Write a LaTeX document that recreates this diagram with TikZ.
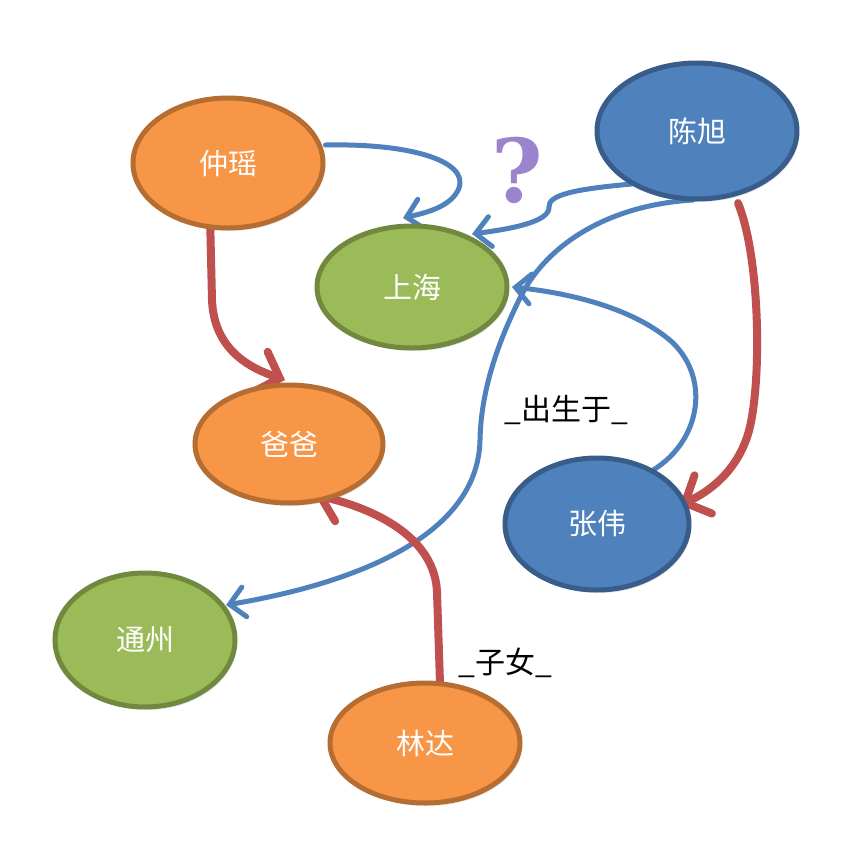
\documentclass[tikz,border=0pt]{standalone}
\usepackage{fontspec}
\newfontfamily\cjk{Noto Sans CJK SC}
\newfontfamily\qfont{DejaVu Serif}
\usetikzlibrary{shapes.geometric,arrows.meta,shadows}
\pgfdeclarelayer{background}
\pgfsetlayers{background,main}
\definecolor{orfill}{HTML}{F79646}
\definecolor{ordraw}{HTML}{B66D31}
\definecolor{grfill}{HTML}{9BBB59}
\definecolor{grdraw}{HTML}{71893F}
\definecolor{blfill}{HTML}{4F81BD}
\definecolor{bldraw}{HTML}{385D8A}
\definecolor{bline}{HTML}{4F81BD}
\definecolor{rline}{HTML}{C0504D}
\definecolor{qpurple}{HTML}{9C84CC}
\tikzset{
  ent/.style={ellipse, line width=5pt, text=white, font=\cjk\fontsize{29}{31}\selectfont, inner sep=0pt,
    drop shadow={opacity=0.18, shadow xshift=2pt, shadow yshift=-3pt}},
  orn/.style={ent, fill=orfill, draw=ordraw},
  grn/.style={ent, fill=grfill, draw=grdraw},
  bln/.style={ent, fill=blfill, draw=bldraw},
  bedge/.style={draw=bline, line width=5pt, line cap=round, -{Straight Barb[length=15pt,width=30pt,line cap=round]}},
  redge/.style={draw=rline, line width=8pt, line cap=round, -{Straight Barb[length=20pt,width=42pt,line cap=round]}},
  lbl/.style={font=\cjk\fontsize{30}{32}\selectfont, text=black}
}
\begin{document}
\begin{tikzpicture}[x=1pt,y=-1pt]
\useasboundingbox (0,0) rectangle (863,844);
\node[orn, minimum width=190pt, minimum height=130pt] (zy) at (228,163) {仲瑶};
\node[grn, minimum width=190pt, minimum height=122pt] (sh) at (412,287) {上海};
\node[bln, minimum width=200pt, minimum height=136pt] (cx) at (697,131) {陈旭};
\node[orn, minimum width=188pt, minimum height=118pt] (bb) at (289,444) {爸爸};
\node[bln, minimum width=184pt, minimum height=132pt] (zw) at (597,524) {张伟};
\node[grn, minimum width=180pt, minimum height=134pt] (tz) at (145,640) {通州};
\node[orn, minimum width=190pt, minimum height=120pt] (ld) at (425,743) {林达};
\node[text=qpurple, font=\qfont\bfseries\fontsize{88}{88}\selectfont] (q) at (517,170) {?};
\coordinate (t1) at (403,218);
\coordinate (t2) at (472,234);
\coordinate (t3) at (226,605);
\coordinate (t4) at (512,287);
\coordinate (t5) at (285,380);
\coordinate (t6) at (680,505);
\coordinate (t7) at (315,495);
\begin{pgfonlayer}{background}
% blue edges
\draw[bedge] (zy.east |- 0,145) .. controls (420,143) and (478,165) .. (455,195) .. controls (445,208) and (425,213) .. (t1);
\draw[bedge] (632,184) .. controls (575,189) and (548,195) .. (549,207) .. controls (550,222) and (510,229) .. (t2);
\draw[bedge] (693,200) .. controls (610,205) and (548,243) .. (521,296) .. controls (498,342) and (481,390) .. (480,440) .. controls (478,540) and (345,585) .. (t3);
\draw[bedge] (648,473) .. controls (700,445) and (712,380) .. (672,342) .. controls (630,305) and (560,292) .. (t4);
% red edges
\draw[redge] (210,215) -- (212,300) .. controls (214,350) and (250,368) .. (t5);
\draw[redge] (738,203) .. controls (762,262) and (762,400) .. (746,440) .. controls (732,478) and (702,495) .. (t6);
\draw[redge] (440,683) -- (437,592) .. controls (435,540) and (380,510) .. (t7);
\end{pgfonlayer}
\node[lbl] (l1) at (566,410) {\_出生于\_};
\node[lbl] (l2) at (505,663) {\_子女\_};
\end{tikzpicture}
\end{document}
